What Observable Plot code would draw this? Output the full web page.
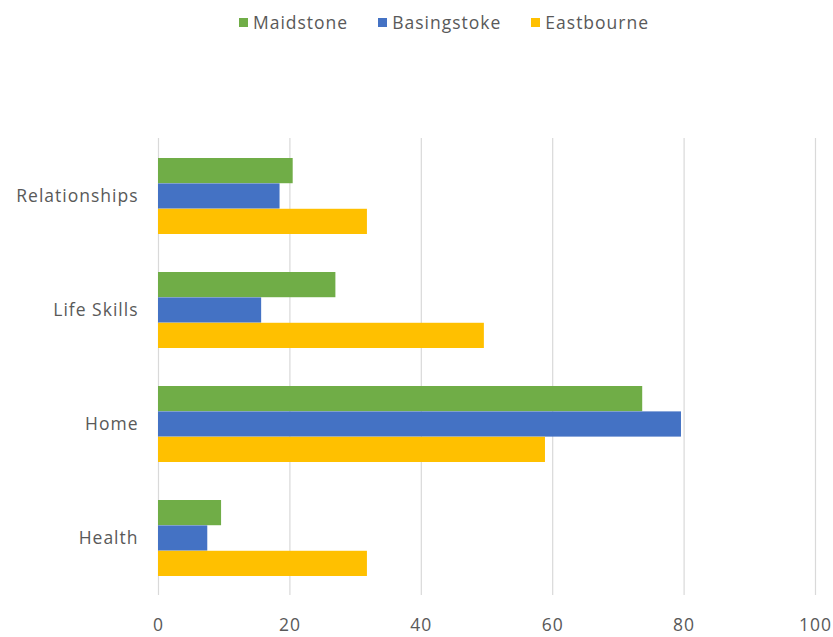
<!DOCTYPE html>
<html>
<head>
<meta charset="utf-8">
<script src="https://cdn.jsdelivr.net/npm/d3@7"></script>
<script src="https://cdn.jsdelivr.net/npm/@observablehq/plot@0.6"></script>
<style>
  html, body { margin: 0; padding: 0; background: #fff; }
  #legend { height: 44px; display: flex; justify-content: center; align-items: center; gap: 30px;
    font-family: "Open Sans", sans-serif; font-size: 17.5px; color: #595959; letter-spacing: 1px; padding-left: 55px; box-sizing: border-box; }
  #legend .item { display: flex; align-items: center; gap: 5px; }
  #legend .sw { width: 9px; height: 9px; display: inline-block; }
</style>
</head>
<body>
<div id="legend"></div>
<div id="chart"></div>
<script>
const categories = ["Relationships", "Life Skills", "Home", "Health"];
const series = ["Maidstone", "Basingstoke", "Eastbourne"];
const colors = ["#70AD47", "#4472C4", "#FFC000"];
const maidstone = [20.5, 27.0, 73.7, 9.6];
const basingstoke = [18.5, 15.7, 79.6, 7.5];
const eastbourne = [31.8, 49.6, 58.9, 31.8];
const xTicks = [0, 20, 40, 60, 80, 100];

const seriesValues = [maidstone, basingstoke, eastbourne];
const data = [];
series.forEach((s, i) => categories.forEach((c, j) => data.push({category: c, series: s, value: seriesValues[i][j], idx: i})));

const legend = document.getElementById("legend");
series.forEach((s, i) => {
  const it = document.createElement("span");
  it.className = "item";
  it.innerHTML = `<span class="sw" style="background:${colors[i]}"></span><span>${s}</span>`;
  legend.appendChild(it);
});

const height = 593, marginTop = 94, marginBottom = 42;
const step = (height - marginTop - marginBottom) / categories.length;
const bw = step * (2/3);
const barH = bw / 3;

const barMarks = series.map((s, i) => Plot.barX(data.filter(d => d.series === s), {
  x: "value", y: "category", fill: colors[i],
  insetTop: i * barH, insetBottom: (2 - i) * barH
}));

const chart = Plot.plot({
  width: 833,
  height,
  marginTop,
  marginBottom,
  marginLeft: 158,
  marginRight: 18,
  style: {fontFamily: "Open Sans, sans-serif", fontSize: "17.5px", color: "#595959", letterSpacing: "1px", background: "#fff"},
  x: {domain: [0, 100], ticks: xTicks, label: null, tickSize: 0, tickPadding: 23},
  y: {domain: categories, paddingInner: 1/3, paddingOuter: 1/6, label: null, tickSize: 0, tickPadding: 20},
  marks: [
    Plot.ruleX(xTicks, {stroke: "#d9d9d9", strokeWidth: 1.2}),
    ...barMarks
  ]
});
document.getElementById("chart").appendChild(chart);
</script>
</body>
</html>
